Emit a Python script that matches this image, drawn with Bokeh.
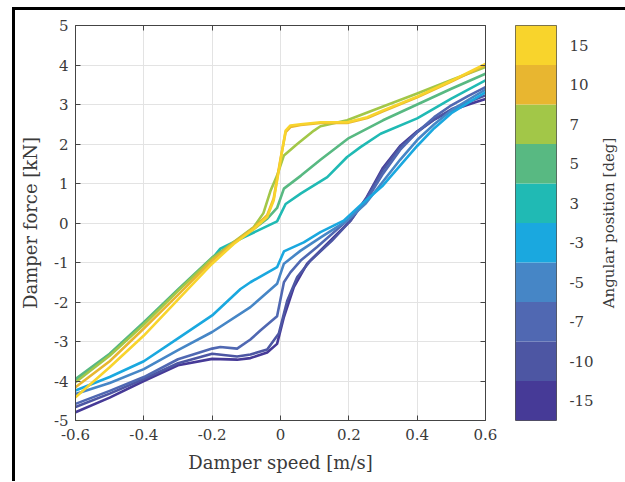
from bokeh.plotting import figure
from bokeh.layouts import row
from bokeh.models import FixedTicker, LinearAxis, FactorRange, Range1d
from bokeh.embed import file_html
from bokeh.resources import INLINE

# ---------------- data ----------------
angle_labels = ["-15", "-10", "-7", "-5", "-3", "3", "5", "7", "10", "15"]
angle_colors = ["#463A97", "#4D56A3", "#5068B2", "#4686C6", "#1AA8DF",
                "#20BAB4", "#58B982", "#A2C748", "#E8B630", "#F8D42C"]

x_ticks = [-0.6, -0.4, -0.2, 0.0, 0.2, 0.4, 0.6]
x_tick_labels = ["-0.6", "-0.4", "-0.2", "0", "0.2", "0.4", "0.6"]
y_ticks = [-5, -4, -3, -2, -1, 0, 1, 2, 3, 4, 5]
y_tick_labels = ["-5", "-4", "-3", "-2", "-1", "0", "1", "2", "3", "4", "5"]

speed_m15 = [-0.6, -0.5, -0.4, -0.3, -0.2, -0.127, -0.088, -0.039, -0.01, 0.01, 0.039, 0.078, 0.14, 0.205, 0.25, 0.3, 0.35, 0.4, 0.45, 0.5, 0.55, 0.6]
force_m15 = [-4.79, -4.42, -4.0, -3.6, -3.44, -3.46, -3.42, -3.28, -3.06, -2.38, -1.62, -1.03, -0.5, 0.06, 0.62, 1.4, 1.95, 2.32, 2.62, 2.85, 3.0, 3.14]

speed_m10 = [-0.6, -0.5, -0.4, -0.3, -0.2, -0.127, -0.088, -0.039, -0.005, 0.02, 0.049, 0.088, 0.15, 0.205, 0.25, 0.3, 0.35, 0.4, 0.45, 0.5, 0.55, 0.6]
force_m10 = [-4.66, -4.32, -3.95, -3.55, -3.31, -3.38, -3.33, -3.2, -2.8, -1.96, -1.37, -0.95, -0.45, 0.06, 0.6, 1.35, 1.92, 2.3, 2.62, 2.88, 3.06, 3.23]

speed_m7 = [-0.6, -0.5, -0.4, -0.3, -0.2, -0.176, -0.127, -0.088, -0.059, -0.01, 0.01, 0.029, 0.059, 0.107, 0.195, 0.25, 0.3, 0.35, 0.4, 0.45, 0.5, 0.55, 0.6]
force_m7 = [-4.58, -4.25, -3.9, -3.45, -3.18, -3.14, -3.18, -2.95, -2.72, -2.36, -1.5, -1.25, -0.95, -0.61, 0.06, 0.55, 1.25, 1.85, 2.3, 2.68, 2.98, 3.22, 3.44]

speed_m5 = [-0.6, -0.5, -0.4, -0.3, -0.2, -0.088, -0.01, 0.01, 0.059, 0.12, 0.195, 0.25, 0.3, 0.35, 0.4, 0.45, 0.5, 0.55, 0.6]
force_m5 = [-4.33, -4.05, -3.7, -3.22, -2.76, -2.13, -1.54, -1.03, -0.7, -0.35, 0.06, 0.5, 1.05, 1.6, 2.1, 2.5, 2.85, 3.12, 3.38]

speed_m3 = [-0.6, -0.5, -0.4, -0.3, -0.2, -0.117, -0.088, -0.01, 0.01, 0.068, 0.117, 0.185, 0.234, 0.3, 0.35, 0.4, 0.45, 0.5, 0.55, 0.6]
force_m3 = [-4.24, -3.9, -3.5, -2.92, -2.34, -1.67, -1.5, -1.12, -0.72, -0.49, -0.23, 0.06, 0.45, 0.95, 1.45, 1.95, 2.4, 2.78, 3.05, 3.31]

speed_p3 = [-0.6, -0.5, -0.4, -0.3, -0.2, -0.176, -0.1, -0.01, 0.015, 0.06, 0.137, 0.195, 0.234, 0.293, 0.4, 0.5, 0.6]
force_p3 = [-3.99, -3.33, -2.54, -1.7, -0.9, -0.65, -0.33, 0.04, 0.48, 0.75, 1.16, 1.67, 1.92, 2.26, 2.65, 3.15, 3.61]

speed_p5 = [-0.6, -0.5, -0.4, -0.3, -0.2, -0.137, -0.078, -0.04, -0.01, 0.01, 0.06, 0.117, 0.2, 0.3, 0.4, 0.5, 0.6]
force_p5 = [-3.95, -3.31, -2.51, -1.68, -0.87, -0.5, -0.15, 0.1, 0.38, 0.87, 1.2, 1.6, 2.15, 2.6, 3.0, 3.4, 3.78]

speed_p7 = [-0.6, -0.5, -0.4, -0.3, -0.2, -0.137, -0.078, -0.05, -0.029, -0.01, 0.01, 0.049, 0.098, 0.117, 0.195, 0.3, 0.4, 0.5, 0.6]
force_p7 = [-4.03, -3.36, -2.57, -1.72, -0.9, -0.48, -0.1, 0.25, 0.82, 1.2, 1.71, 2.0, 2.34, 2.45, 2.6, 2.95, 3.28, 3.62, 3.95]

speed_p10 = [-0.6, -0.5, -0.4, -0.3, -0.2, -0.137, -0.078, -0.039, -0.02, 0.0, 0.015, 0.029, 0.059, 0.117, 0.195, 0.254, 0.3, 0.4, 0.5, 0.6]
force_p10 = [-4.16, -3.5, -2.67, -1.82, -0.95, -0.5, -0.12, 0.2, 0.62, 1.62, 2.3, 2.43, 2.48, 2.53, 2.53, 2.66, 2.83, 3.18, 3.58, 4.0]

speed_p15 = [-0.6, -0.5, -0.4, -0.3, -0.2, -0.137, -0.078, -0.039, -0.02, 0.0, 0.015, 0.029, 0.059, 0.117, 0.195, 0.254, 0.3, 0.4, 0.5, 0.6]
force_p15 = [-4.41, -3.65, -2.85, -1.94, -1.03, -0.53, -0.15, 0.15, 0.57, 1.58, 2.34, 2.47, 2.5, 2.55, 2.55, 2.68, 2.85, 3.2, 3.6, 4.03]

curves = [(speed_m15, force_m15), (speed_m10, force_m10), (speed_m7, force_m7),
          (speed_m5, force_m5), (speed_m3, force_m3), (speed_p3, force_p3),
          (speed_p5, force_p5), (speed_p7, force_p7), (speed_p10, force_p10),
          (speed_p15, force_p15)]

# ---------------- style ----------------
FONT = "DejaVu Serif"
TEXT = "#3a3a3a"
AXC = "#444444"
GRID = "#e3e3e3"

p = figure(frame_width=410, frame_height=395, x_range=(-0.6, 0.6), y_range=(-5, 5),
           output_backend="svg", toolbar_location=None,
           min_border_left=60, min_border_top=15, min_border_right=15, min_border_bottom=61)
p.outline_line_color = None
p.background_fill_color = "white"

xb = p.below[0]
yl = p.left[0]

for side in ("above", "right"):
    ax = LinearAxis(ticker=FixedTicker(ticks=x_ticks if side == "above" else y_ticks))
    ax.major_label_text_font_size = "0px"
    ax.major_label_standoff = 0
    ax.major_tick_in = 5
    ax.major_tick_out = 0
    ax.minor_tick_line_color = None
    ax.axis_line_color = AXC
    ax.major_tick_line_color = AXC
    p.add_layout(ax, side)

xb.ticker = FixedTicker(ticks=x_ticks)
yl.ticker = FixedTicker(ticks=y_ticks)
xb.major_label_overrides = {t: l for t, l in zip(x_ticks, x_tick_labels)}
yl.major_label_overrides = {t: l for t, l in zip(y_ticks, y_tick_labels)}
xb.axis_label = "Damper speed [m/s]"
yl.axis_label = "Damper force [kN]"

for ax in (xb, yl):
    ax.major_tick_in = 5
    ax.major_tick_out = 0
    ax.minor_tick_line_color = None
    ax.axis_line_color = AXC
    ax.major_tick_line_color = AXC
    ax.major_label_text_font = FONT
    ax.major_label_text_font_size = "15px"
    ax.major_label_text_color = TEXT
    ax.axis_label_text_font = FONT
    ax.axis_label_text_font_size = "18px"
    ax.axis_label_text_font_style = "normal"
    ax.axis_label_text_color = TEXT
xb.major_label_standoff = 8
xb.axis_label_standoff = 9
yl.major_label_standoff = 7
yl.axis_label_standoff = 10

p.xgrid.ticker = FixedTicker(ticks=x_ticks)
p.ygrid.ticker = FixedTicker(ticks=y_ticks)
p.grid.grid_line_color = GRID
p.grid.grid_line_width = 1

for (xs, ys), c in zip(curves, angle_colors):
    p.line(xs, ys, line_color=c, line_width=2.6, line_join="round", line_cap="round")

# ---------------- colorbar ----------------
cb = figure(frame_width=41, frame_height=395, x_range=(0, 1), y_range=FactorRange(*angle_labels),
            output_backend="svg", toolbar_location=None, x_axis_location=None,
            y_axis_location="right", min_border_left=15, min_border_top=15,
            min_border_right=34, min_border_bottom=61)
cb.hbar(y=angle_labels, left=0, right=1, height=1.0, fill_color=angle_colors, line_color=None)
cb.grid.visible = False
cb.outline_line_color = "#555555"
cb.outline_line_width = 1
ya = cb.yaxis[0]
ya.axis_line_color = None
ya.major_tick_line_color = None
ya.minor_tick_line_color = None
ya.major_label_text_font = FONT
ya.major_label_text_font_size = "15px"
ya.major_label_text_color = TEXT
ya.major_label_standoff = 7

# colorbar title: carried by the left axis of a thin companion panel
lab = figure(frame_width=1, frame_height=395, x_range=Range1d(0, 1), y_range=Range1d(0, 1),
             output_backend="svg", toolbar_location=None, x_axis_location=None,
             y_axis_location="left", min_border_left=22, min_border_top=15,
             min_border_right=7, min_border_bottom=61)
lab.outline_line_color = None
lab.grid.visible = False
la = lab.yaxis[0]
la.ticker = FixedTicker(ticks=[])
la.major_label_text_font_size = "0px"
la.major_label_standoff = 0
la.major_tick_line_color = None
la.minor_tick_line_color = None
la.axis_line_color = None
la.axis_label = "Angular position [deg]"
la.axis_label_text_font = FONT
la.axis_label_text_font_size = "15px"
la.axis_label_text_font_style = "normal"
la.axis_label_text_color = TEXT
la.axis_label_standoff = 2

layout = row(p, cb, lab, styles={"border-top": "3px solid black", "border-left": "3px solid black",
                                 "border-right": "3px solid black", "margin-left": "12px",
                                 "margin-top": "7px"})

open("out.html", "w").write(file_html(layout, INLINE))
